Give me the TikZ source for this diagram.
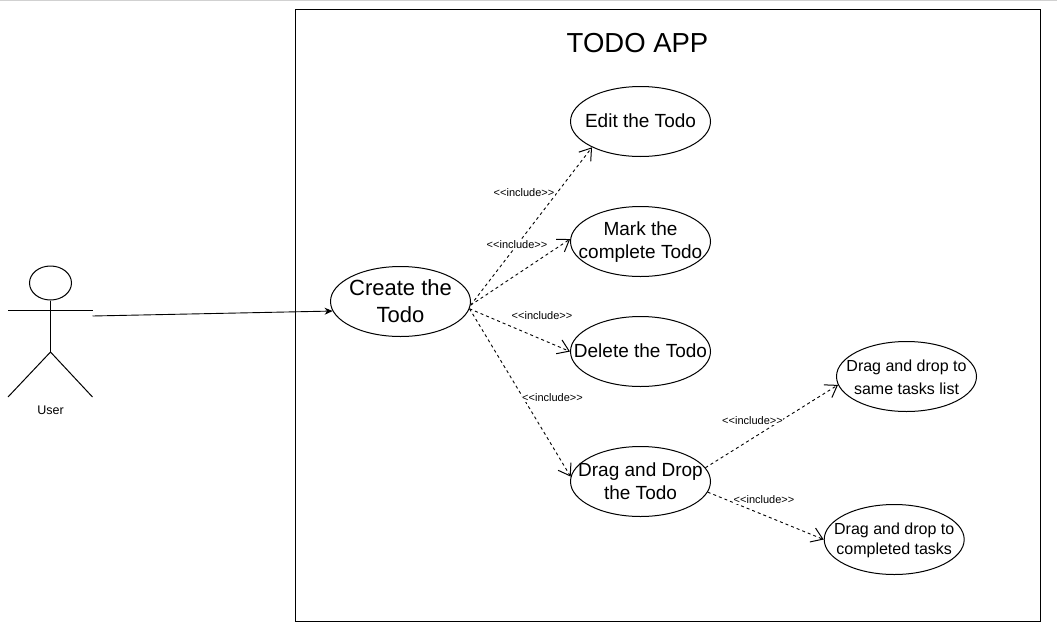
\documentclass[tikz,border=0pt]{standalone}
\usepackage{fontspec}
\setmainfont{Liberation Sans}
\usetikzlibrary{arrows.meta,shapes.geometric}
\tikzset{
  usecase/.style={draw=black,line width=1pt,ellipse,inner sep=0pt,minimum width=140pt,minimum height=70pt},
  uctext/.style={align=center,inner sep=0pt,text=black},
  big/.style={uctext,font=\fontsize{22}{27}\selectfont},
  mid/.style={uctext,font=\fontsize{19}{23}\selectfont},
  small/.style={uctext,font=\fontsize{16}{20}\selectfont},
  inc/.style={draw=black,line width=.9pt,dash pattern=on 3pt off 3pt,-{Straight Barb[length=11pt,width=15pt,line width=1pt]}},
  lab/.style={fill=white,inner sep=.5pt,font=\fontsize{11}{13}\selectfont},
  actorline/.style={draw=black,line width=1pt},
}
\begin{document}
\begin{tikzpicture}[x=1pt,y=-1pt]
\useasboundingbox (0,0) rectangle (1057,629);
\coordinate (tl) at (0,0.5); \coordinate (tr) at (1057,0.5);
\draw[black!18,line width=1.2pt] (tl) -- (tr);
\node[draw=black,line width=1pt,minimum width=745pt,minimum height=612pt,inner sep=0pt,anchor=north west] (sys) at (295,9) {};
\node[inner sep=0pt,font=\fontsize{27.5}{32}\selectfont] (title) at (637.5,43.5) {TODO APP};
% actor
\node[draw=black,line width=1pt,ellipse,inner sep=0pt,minimum width=42pt,minimum height=34pt] (head) at (50.5,283) {};
\coordinate (hip) at (50.5,352);
\coordinate (armL) at (8,310); \coordinate (armR) at (92.5,310);
\coordinate (footL) at (8,397); \coordinate (footR) at (92.5,397);
\coordinate (hand) at (92.5,316);
\draw[actorline] (head.south) -- (hip);
\draw[actorline] (armL) -- (armR);
\draw[actorline] (footL) -- (hip) -- (footR);
\node[inner sep=0pt,font=\fontsize{12.5}{14}\selectfont] (user) at (50.5,410) {User};
% use cases
\node[usecase] (create) at (400.5,301.5) {};
\node[usecase] (edit) at (640.5,121.5) {};
\node[usecase] (mark) at (640.5,241.5) {};
\node[usecase] (del) at (640.5,351.5) {};
\node[usecase] (drag) at (640.5,481.5) {};
\node[usecase] (same) at (906.5,376.5) {};
\node[usecase] (done) at (894.2,539.5) {};
\node[big] (createT) at ([yshift=.5pt]create.center) {Create the\\Todo};
\node[mid] (editT) at ([yshift=.5pt]edit.center) {Edit the Todo};
\node[mid] (markT) at ([yshift=-.5pt]mark.center) {Mark the\\complete Todo};
\node[mid] (delT) at ([yshift=.5pt]del.center) {Delete the Todo};
\node[mid] (dragT) at ([yshift=.5pt]drag.center) {Drag and Drop\\the Todo};
\node[small,font=\fontsize{16}{23}\selectfont] (sameT) at ([yshift=-1pt]same.center) {Drag and drop to\\same tasks list};
\node[small] (doneT) at ([yshift=-1pt]done.center) {Drag and drop to\\completed tasks};
% connectors
\draw[draw=black,line width=.9pt,-{Stealth[length=8pt,width=7pt]}] (hand) -- (create.188.5);
\draw[inc] (create.-3) -- (edit.208);
\draw[inc] (create.-3) -- (mark.178);
\draw[inc] (create.-6) -- (del.180);
\draw[inc] (create.-6) -- (drag.176);
\draw[inc] (drag.12) -- (same.187);
\draw[inc] (drag.-9) -- (done.180);
% labels
\node[lab] (l1) at (524,192.5) {<{}<include>{}>};
\node[lab] (l2) at (517,244.5) {<{}<include>{}>};
\node[lab] (l3) at (542,315.5) {<{}<include>{}>};
\node[lab] (l4) at (552.5,397.5) {<{}<include>{}>};
\node[lab] (l5) at (752.5,420.5) {<{}<include>{}>};
\node[lab] (l6) at (764,499.5) {<{}<include>{}>};
\end{tikzpicture}
\end{document}
